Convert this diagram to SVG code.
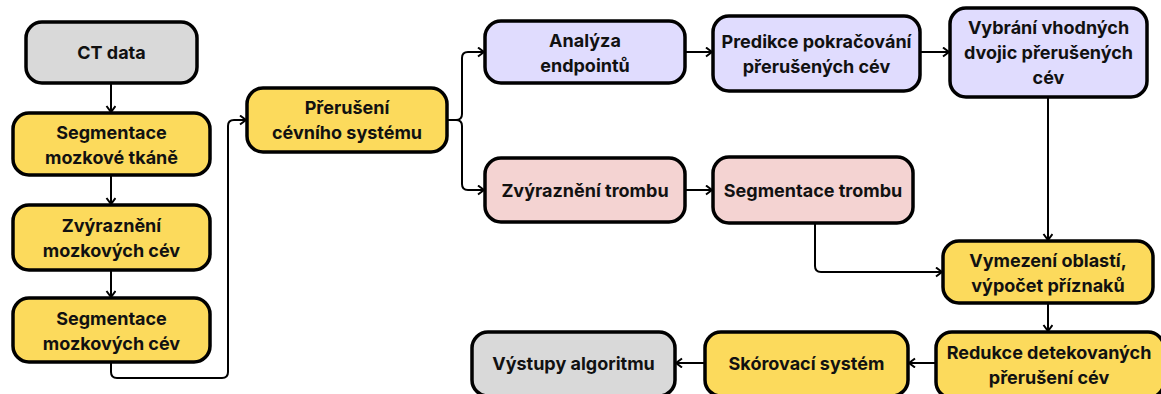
<svg xmlns="http://www.w3.org/2000/svg" width="1161" height="394" viewBox="0 0 1161 394">
<style>
.box{stroke:#000;stroke-width:3.5}
.y{fill:#FCDA5C}.g{fill:#D9D9D9}.v{fill:#E0DCFE}.p{fill:#F4D3D2}
text{font-family:Inter,"Noto Sans",sans-serif;font-weight:700;font-size:18px;fill:#111;text-anchor:middle;dominant-baseline:central}
.c{fill:none;stroke:#000;stroke-width:2;marker-end:url(#a)}
</style>
<defs>
<marker id="a" markerUnits="userSpaceOnUse" markerWidth="10" markerHeight="12" refX="7" refY="5" orient="auto">
<path d="M1,0.5 L7,5 L1,9.5" fill="none" stroke="#000" stroke-width="2"/>
</marker>
</defs>
<rect width="1161" height="394" fill="#fff"/>
<g id="connectors">
<path class="c" d="M111 83 V112"/>
<path class="c" d="M111 175 V204"/>
<path class="c" d="M111 270 V297"/>
<path class="c" d="M111 362 V372 Q111 378 117 378 H222 Q228 378 228 372 V126 Q228 120 234 120 H246"/>
<path class="c" d="M447 120 H456 Q462 120 462 114 V58 Q462 52 468 52 H484"/>
<path class="c" d="M447 120 H456 Q462 120 462 126 V184 Q462 190 468 190 H484"/>
<path class="c" d="M685 52 H712"/>
<path class="c" d="M920 52 H949"/>
<path class="c" d="M1048 97 V240"/>
<path class="c" d="M685 190 H712"/>
<path class="c" d="M815 223 V266 Q815 272 821 272 H942"/>
<path class="c" d="M1048 303 V331"/>
<path class="c" d="M936 363 H909"/>
<path class="c" d="M705 363 H676"/>
</g>
<g id="n-ct"><rect class="box g" x="26" y="22" width="171" height="61" rx="16"/><text x="111.5" y="52.5">CT data</text></g>
<g id="n-seg-tkane"><rect class="box y" x="13" y="113" width="197" height="62" rx="16"/><text x="111.5" y="132">Segmentace</text><text x="111.5" y="157">mozkové tkáně</text></g>
<g id="n-zvyr-cev"><rect class="box y" x="13" y="205" width="197" height="65" rx="16"/><text x="111.5" y="225">Zvýraznění</text><text x="111.5" y="250">mozkových cév</text></g>
<g id="n-seg-cev"><rect class="box y" x="13" y="298" width="197" height="64" rx="16"/><text x="111.5" y="318">Segmentace</text><text x="111.5" y="343">mozkových cév</text></g>
<g id="n-preruseni"><rect class="box y" x="247" y="88" width="200" height="64" rx="16"/><text x="347" y="107">Přerušení</text><text x="347" y="132">cévního systému</text></g>
<g id="n-analyza"><rect class="box v" x="485" y="21" width="200" height="62" rx="16"/><text x="585" y="40">Analýza</text><text x="585" y="65">endpointů</text></g>
<g id="n-predikce"><rect class="box v" x="713" y="16" width="207" height="75" rx="16"/><text x="816.5" y="41">Predikce pokračování</text><text x="816.5" y="66">přerušených cév</text></g>
<g id="n-vybrani"><rect class="box v" x="950" y="8" width="197" height="89" rx="16"/><text x="1048.5" y="27">Vybrání vhodných</text><text x="1048.5" y="52">dvojic přerušených</text><text x="1048.5" y="77">cév</text></g>
<g id="n-zvyr-trombu"><rect class="box p" x="485" y="158" width="200" height="64" rx="16"/><text x="585" y="190">Zvýraznění trombu</text></g>
<g id="n-seg-trombu"><rect class="box p" x="713" y="157" width="200" height="66" rx="16"/><text x="813" y="190">Segmentace trombu</text></g>
<g id="n-vymezeni"><rect class="box y" x="943" y="241" width="210" height="62" rx="16"/><text x="1048" y="260">Vymezení oblastí,</text><text x="1048" y="285">výpočet příznaků</text></g>
<g id="n-redukce"><rect class="box y" x="936" y="332" width="228" height="66" rx="16"/><text x="1049" y="352">Redukce detekovaných</text><text x="1049" y="377">přerušení cév</text></g>
<g id="n-skorovaci"><rect class="box y" x="705" y="332" width="203" height="64" rx="16"/><text x="806.5" y="363">Skórovací systém</text></g>
<g id="n-vystupy"><rect class="box g" x="472" y="332" width="203" height="64" rx="16"/><text x="573.5" y="363">Výstupy algoritmu</text></g>
</svg>
